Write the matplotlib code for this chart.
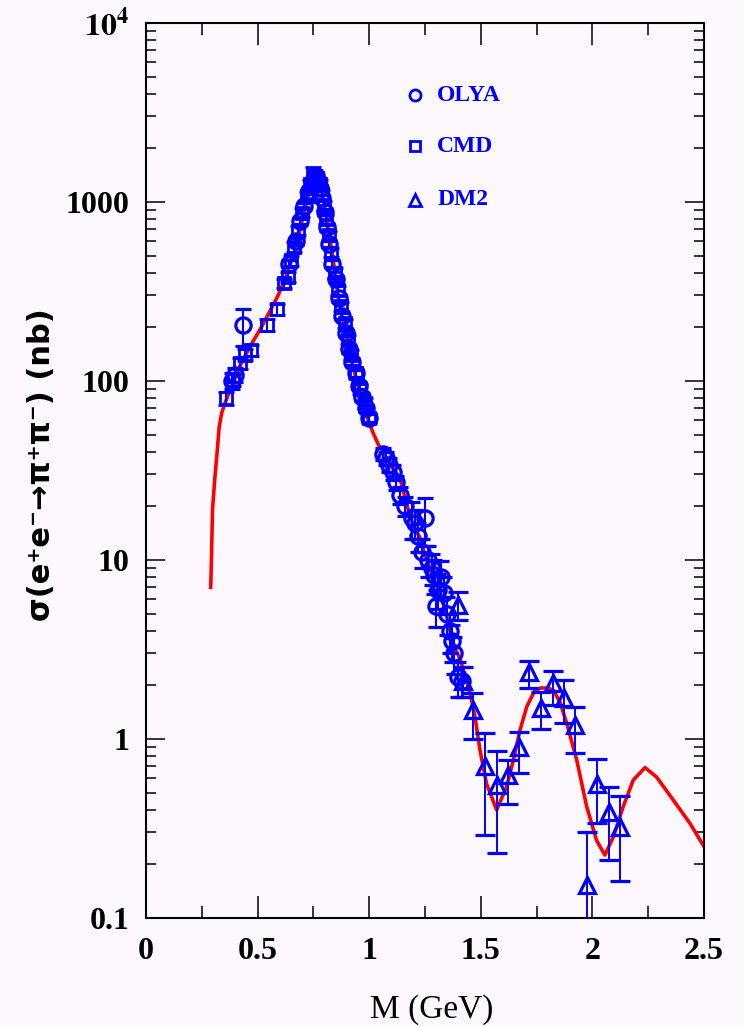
import matplotlib
matplotlib.use("Agg")
import matplotlib.pyplot as plt
from matplotlib.ticker import FixedLocator, MultipleLocator, LogLocator, NullFormatter

# fit curve for sigma(e+e- -> pi+pi-) vs M
fit_m = [0.290, 0.294, 0.298, 0.309, 0.317, 0.328, 0.339, 0.354, 0.376, 0.420, 0.466,
         0.518, 0.593, 0.630, 0.668, 0.697, 0.720, 0.745, 0.765, 0.780, 0.800, 0.832,
         0.854, 0.861, 0.899, 0.951, 0.996, 1.018, 1.041, 1.063, 1.100, 1.138, 1.175,
         1.202, 1.225, 1.240, 1.290, 1.340, 1.362, 1.384, 1.407, 1.452, 1.474, 1.496,
         1.526, 1.571, 1.616, 1.646, 1.676, 1.706, 1.743, 1.770, 1.800, 1.825, 1.855,
         1.885, 1.930, 1.974, 2.019, 2.056, 2.094, 2.138, 2.183, 2.236, 2.288, 2.362,
         2.437, 2.500]
fit_s = [7.0, 10.9, 19, 29, 37.6, 55, 66, 75, 88, 120, 155,
         200, 301, 390, 537, 757, 1000, 1250, 1350, 1280, 950, 537,
         350, 294, 169, 92, 60, 51, 44, 40, 33, 28.5, 19,
         15, 13.5, 11.6, 7.8, 5.3, 4.0, 3.2, 2.8, 1.8, 1.33, 0.87,
         0.56, 0.40, 0.54, 0.76, 1.12, 1.51, 1.87, 1.92, 1.92, 1.87, 1.6,
         1.22, 0.76, 0.42, 0.27, 0.224, 0.283, 0.417, 0.587, 0.69, 0.61, 0.455,
         0.337, 0.25]

# OLYA
olya_m = [0.385, 0.400, 0.436, 0.640, 0.670, 0.690, 0.710, 0.730, 0.750, 0.760, 0.770,
          0.780, 0.790, 0.800, 0.810, 0.820, 0.835, 0.850, 0.865, 0.880, 0.895, 0.910,
          0.925, 0.940, 0.955, 0.970, 0.985, 1.000, 1.060, 1.075, 1.090, 1.105, 1.120,
          1.140, 1.160, 1.190, 1.205, 1.220, 1.235, 1.250, 1.265, 1.280, 1.290, 1.300,
          1.310, 1.320, 1.335, 1.350, 1.360, 1.370, 1.380, 1.400, 1.415]
olya_s = [100, 108, 205, 450, 600, 780, 950, 1150, 1300, 1350, 1300,
          1200, 1050, 880, 720, 580, 450, 370, 290, 230, 185, 150,
          128, 110, 94, 81, 70, 62, 39, 37, 34, 31, 27,
          23, 20, 17, 16, 13.5, 11, 17, 10, 9, 8.2, 5.5,
          6.8, 8, 6.5, 5, 4, 3.5, 3, 2.2, 2.1]
olya_err = [10, 10, 48, 20, 25, 30, 35, 40, 45, 45, 45,
            40, 40, 35, 30, 25, 20, 16, 13, 10, 8, 7,
            6, 5, 4, 4, 3.5, 3, 3, 3, 3, 3, 2.5,
            2.5, 2.5, 4, 3, 2.5, 2, 5, 2, 1.8, 1.8, 1.3,
            1.5, 1.8, 1.5, 1.2, 1, 0.8, 0.7, 0.5, 0.4]

# CMD
cmd_m = [0.360, 0.390, 0.420, 0.445, 0.470, 0.540, 0.585, 0.620, 0.635, 0.650, 0.665,
         0.680, 0.700, 0.720, 0.735, 0.748, 0.758, 0.768, 0.778, 0.788, 0.798, 0.808,
         0.818, 0.830, 0.845, 0.860, 0.875, 0.890, 0.905, 0.920, 0.940, 0.960, 0.980,
         1.000]
cmd_s = [80, 101, 125, 140, 148, 205, 250, 350, 380, 470, 560,
         690, 870, 1080, 1250, 1420, 1400, 1350, 1250, 1100, 950, 800,
         650, 520, 400, 320, 260, 210, 170, 140, 110, 90, 75,
         62]
cmd_err = [7, 8, 9, 10, 10, 15, 18, 22, 25, 30, 35,
           40, 50, 60, 70, 150, 100, 75, 70, 60, 55, 45,
           38, 30, 24, 18, 15, 12, 10, 8, 7, 6, 5,
           4]

# DM2
dm2_m = [1.400, 1.420, 1.466, 1.519, 1.574, 1.624, 1.673, 1.717, 1.770, 1.823, 1.873,
         1.922, 1.974, 2.022, 2.074, 2.124]
dm2_s = [5.6, 2.1, 1.45, 0.70, 0.55, 0.63, 0.90, 2.37, 1.48, 2.04, 1.68,
         1.19, 0.152, 0.56, 0.39, 0.32]
dm2_lo = [1.0, 0.4, 0.45, 0.41, 0.32, 0.20, 0.26, 0.46, 0.34, 0.49, 0.46,
          0.36, 0.10, 0.22, 0.18, 0.16]
dm2_hi = [1.0, 0.4, 0.34, 0.37, 0.30, 0.13, 0.19, 0.36, 0.35, 0.36, 0.45,
          0.32, 0.15, 0.21, 0.15, 0.16]

ytick_vals = [0.1, 1, 10, 100, 1000, 10000]
ytick_labels = ["0.1", "1", "10", "100", "1000", r"$\mathbf{10^4}$"]
xtick_vals = [0, 0.5, 1, 1.5, 2, 2.5]
xtick_labels = ["0", "0.5", "1", "1.5", "2", "2.5"]

BLUE = "#0000ff"
RED = "#ff0000"
BG = "#fdf8fd"

plt.rcParams["mathtext.fontset"] = "stix"
tickfont = {"family": "Liberation Serif", "weight": "bold", "size": 23}

fig = plt.figure(figsize=(7.44, 10.27), dpi=100, facecolor=BG)
ax = fig.add_axes([0.1962, 0.1064, 0.75, 0.8715], facecolor=BG)

ax.plot(fit_m, fit_s, color=RED, lw=2.6, zorder=2)

ax.errorbar(olya_m, olya_s, yerr=olya_err, fmt="o", ms=11, mfc="none", mec=BLUE,
            mew=2.3, ecolor=BLUE, elinewidth=1.5, capsize=6, capthick=1.6, zorder=3)
ax.errorbar(cmd_m, cmd_s, yerr=cmd_err, fmt="s", ms=9, mfc="none", mec=BLUE,
            mew=2.0, ecolor=BLUE, elinewidth=1.5, capsize=6, capthick=1.6, zorder=3)
ax.errorbar(dm2_m, dm2_s, yerr=[dm2_lo, dm2_hi], fmt="^", ms=11, mfc="none", mec=BLUE,
            mew=2.3, ecolor=BLUE, elinewidth=1.4, capsize=7, capthick=1.6, zorder=3)

ax.set_xlim(0, 2.5)
ax.set_yscale("log")
ax.set_ylim(0.1, 1e4)

ax.xaxis.set_major_locator(FixedLocator(xtick_vals))
ax.xaxis.set_minor_locator(MultipleLocator(0.25))
ax.set_xticklabels(xtick_labels, fontdict=tickfont)
ax.yaxis.set_major_locator(FixedLocator(ytick_vals))
ax.yaxis.set_minor_locator(LogLocator(base=10, subs=range(2, 10), numticks=20))
ax.yaxis.set_minor_formatter(NullFormatter())
ax.set_yticklabels(ytick_labels, fontdict=tickfont)

ax.xaxis.set_tick_params(which="major", direction="in", length=16, width=1.1,
                         top=True, bottom=True, pad=14)
ax.xaxis.set_tick_params(which="minor", direction="in", length=8.5, width=1.1,
                         top=True, bottom=True)
ax.yaxis.set_tick_params(which="major", direction="in", length=14, width=1.1,
                         left=True, right=True, pad=12)
ax.yaxis.set_tick_params(which="minor", direction="in", length=7, width=1.1,
                         left=True, right=True)
for sp in ax.spines.values():
    sp.set_linewidth(1.5)

# legend drawn by hand
leg = [("o", "OLYA", 0.919, 8), ("s", "CMD", 0.862, 6.5), ("^", "DM2", 0.802, 8)]
for mk, name, yy, sz in leg:
    ax.plot([0.483], [yy], marker=mk, ms=sz, mfc="none", mec=BLUE, mew=2.0,
            transform=ax.transAxes, clip_on=False)
    ax.text(0.522, yy, name, color=BLUE, fontsize=17, fontweight="bold",
            family="Liberation Serif", ha="left", va="center", transform=ax.transAxes)

fig.text(432 / 744, 1 - 1010 / 1027, "M (GeV)", family="Liberation Serif",
         fontsize=24, ha="center", va="center")
fig.text(42 / 744, 1 - 465 / 1027, "σ(e⁺e⁻→π⁺π⁻) (nb)", family="DejaVu Sans",
         fontweight="bold", fontsize=22, rotation=90, ha="center", va="center")

fig.savefig("out.png", dpi=100, facecolor=BG)
